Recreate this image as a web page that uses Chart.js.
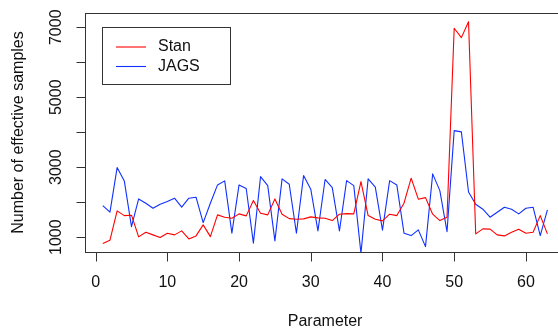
<!DOCTYPE html>
<html>
<head>
<meta charset="utf-8">
<script src="https://cdn.jsdelivr.net/npm/chart.js@4.4.1/dist/chart.umd.min.js"></script>
<style>
  html, body { margin: 0; padding: 0; background: #fff; overflow: hidden; }
  #wrap { width: 570px; height: 328px; }
</style>
</head>
<body>
<div id="wrap"><canvas id="chart" width="570" height="328"></canvas></div>
<script>
// Effective sample size per parameter, Stan vs JAGS
const params = [1, 2, 3, 4, 5, 6, 7, 8, 9, 10, 11, 12, 13, 14, 15, 16, 17, 18, 19, 20,
  21, 22, 23, 24, 25, 26, 27, 28, 29, 30, 31, 32, 33, 34, 35, 36, 37, 38, 39, 40,
  41, 42, 43, 44, 45, 46, 47, 48, 49, 50, 51, 52, 53, 54, 55, 56, 57, 58, 59, 60,
  61, 62, 63];

const stan = [817, 914, 1751, 1617, 1629, 1009, 1143, 1066, 989, 1114,
  1066, 1180, 951, 1037, 1351, 1017, 1637, 1571, 1543, 1666,
  1609, 2046, 1686, 1637, 2094, 1657, 1531, 1514, 1523, 1580,
  1551, 1543, 1474, 1657, 1674, 1666, 2589, 1617, 1514, 1466,
  1657, 1617, 1971, 2686, 2086, 2131, 1657, 1474, 1571, 6971,
  6703, 7160, 1094, 1237, 1229, 1066, 1037, 1143, 1229, 1114,
  1143, 1617, 1094];

const jags = [1903, 1714, 2989, 2609, 1303, 2094, 1971, 1828, 1943, 2017,
  2114, 1857, 2114, 2143, 1417, 1971, 2494, 2609, 1114, 2494,
  2390, 829, 2731, 2474, 894, 2666, 2514, 1114, 2760, 2371,
  1180, 2650, 2417, 1180, 2617, 2474, 540, 2666, 2429, 1200,
  2617, 2494, 1114, 1046, 1209, 731, 2809, 2331, 1160, 4046,
  4009, 2290, 1940, 1800, 1571, 1714, 1857, 1800, 1666, 1828,
  1857, 1046, 1780];

const xTicks = [0, 10, 20, 30, 40, 50, 60];
const yTicks = [1000, 2000, 3000, 4000, 5000, 6000, 7000];
const yLabels = [1000, 3000, 5000, 7000];

const FONT = '16px "Liberation Sans", Arial, sans-serif';

// R-style box, axes, titles and legend drawn on top of the Chart.js scales
const rAxes = {
  id: "rAxes",
  afterDraw(chart) {
    const { ctx, chartArea: a, scales: { x, y } } = chart;
    const L = Math.round(a.left) + 0.5;
    const T = Math.round(a.top) + 0.5;
    const B = Math.round(a.bottom) + 0.5;
    const R = Math.round(a.right) + 0.5;

    ctx.save();
    ctx.strokeStyle = "#333";
    ctx.lineWidth = 1;
    ctx.strokeRect(L, T, R - L, B - T);

    ctx.fillStyle = "#111";
    ctx.font = FONT;
    ctx.beginPath();
    xTicks.forEach((t) => {
      const px = Math.round(x.getPixelForValue(t)) + 0.5;
      ctx.moveTo(px, B);
      ctx.lineTo(px, B + 9);
    });
    yTicks.forEach((t) => {
      const py = Math.round(y.getPixelForValue(t)) + 0.5;
      ctx.moveTo(L, py);
      ctx.lineTo(L - 9, py);
    });
    ctx.stroke();

    ctx.textAlign = "center";
    ctx.textBaseline = "middle";
    xTicks.forEach((t) => {
      ctx.fillText(String(t), x.getPixelForValue(t), a.bottom + 30);
    });
    yLabels.forEach((t) => {
      ctx.save();
      ctx.translate(56.5, y.getPixelForValue(t));
      ctx.rotate(-Math.PI / 2);
      ctx.fillText(String(t), 0, 0);
      ctx.restore();
    });

    ctx.textBaseline = "alphabetic";
    ctx.fillText("Parameter", (a.left + a.right) / 2, 326);
    ctx.save();
    ctx.translate(23, (a.top + a.bottom) / 2);
    ctx.rotate(-Math.PI / 2);
    ctx.fillText("Number of effective samples", 0, 0);
    ctx.restore();

    // legend
    ctx.strokeStyle = "#333";
    ctx.strokeRect(102.5, 27.5, 128, 57);
    ctx.textAlign = "left";
    ctx.textBaseline = "middle";
    chart.data.datasets.forEach((ds, i) => {
      const ly = 47 + i * 19.5;
      ctx.strokeStyle = ds.borderColor;
      ctx.lineWidth = ds.borderWidth;
      ctx.beginPath();
      ctx.moveTo(116, ly);
      ctx.lineTo(146, ly);
      ctx.stroke();
      ctx.fillText(ds.label, 158, ly);
    });
    ctx.restore();
  },
};

new Chart(document.getElementById("chart"), {
  type: "line",
  data: {
    labels: params,
    datasets: [
      {
        label: "Stan",
        data: stan,
        borderColor: "#ff0000",
        borderWidth: 1.1,
        pointRadius: 0,
        tension: 0,
        borderJoinStyle: "round",
        clip: 0,
      },
      {
        label: "JAGS",
        data: jags,
        borderColor: "#1030ff",
        borderWidth: 1.1,
        pointRadius: 0,
        tension: 0,
        borderJoinStyle: "round",
        clip: 0,
      },
    ],
  },
  options: {
    responsive: false,
    animation: false,
    layout: { padding: { left: 85, right: 4.8, top: 12.7, bottom: 75.7 } },
    plugins: { legend: { display: false }, tooltip: { enabled: false } },
    scales: {
      x: { type: "linear", display: false, min: -1.48, max: 65.48 },
      y: { display: false, min: 568, max: 7416 },
    },
  },
  plugins: [rAxes],
});
</script>
</body>
</html>
